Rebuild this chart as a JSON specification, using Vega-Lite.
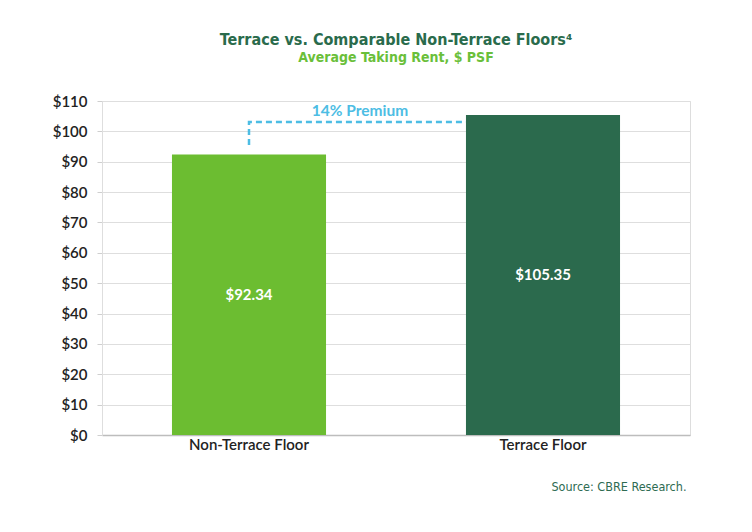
{
  "$schema": "https://vega.github.io/schema/vega-lite/v6.json",
  "width": 588,
  "height": 334,
  "autosize": "none",
  "padding": {"left": 102, "top": 101, "right": 62, "bottom": 97},
  "background": "white",
  "title": {
    "text": "Terrace vs. Comparable Non-Terrace Floors⁴",
    "subtitle": "Average Taking Rent, $ PSF",
    "anchor": "middle",
    "font": "Liberation Sans Narrow, DejaVu Sans Condensed, sans-serif",
    "fontSize": 16,
    "fontWeight": "bold",
    "color": "#2a6b4c",
    "subtitleFont": "Liberation Sans Narrow, DejaVu Sans Condensed, sans-serif",
    "subtitleFontSize": 14,
    "subtitleFontWeight": "bold",
    "subtitleColor": "#6abf3a",
    "subtitlePadding": 3,
    "offset": 29
  },
  "datasets": {
    "bars": [
      {"floor": "Non-Terrace Floor", "rent": 92.34, "label": "$92.34"},
      {"floor": "Terrace Floor", "rent": 105.35, "label": "$105.35"}
    ],
    "premium": [
      {"floor": "Non-Terrace Floor", "y": 95.5, "seq": 1},
      {"floor": "Non-Terrace Floor", "y": 103.1, "seq": 2},
      {"floor": "Terrace Floor", "y": 103.1, "seq": 3}
    ],
    "note": [
      {"floor": "Non-Terrace Floor", "y": 106.6, "text": "14% Premium"}
    ]
  },
  "encoding": {
    "y": {
      "type": "quantitative",
      "scale": {"domain": [0, 110]},
      "axis": {
        "values": [0, 10, 20, 30, 40, 50, 60, 70, 80, 90, 100, 110],
        "labelOverlap": false,
        "labelExpr": "'$' + datum.value",
        "labelFont": "Lato, sans-serif",
        "labelFontSize": 15,
        "labelFontWeight": 600,
        "labelColor": "#222222",
        "labelPadding": 10,
        "tickColor": "#cfcfcf",
        "tickSize": 5,
        "domainColor": "#dedede",
        "gridColor": "#dedede",
        "gridWidth": 1.2,
        "title": null
      }
    }
  },
  "layer": [
    {
      "data": {"name": "premium"},
      "mark": {"type": "line", "color": "#4dbde4", "strokeWidth": 2.5, "strokeDash": [6, 4]},
      "encoding": {
        "x": {"field": "floor", "type": "nominal"},
        "y": {"field": "y"},
        "order": {"field": "seq", "type": "quantitative"}
      }
    },
    {
      "data": {"name": "bars"},
      "mark": {"type": "bar"},
      "encoding": {
        "x": {
          "field": "floor",
          "type": "nominal",
          "sort": null,
          "scale": {"paddingInner": 0.476, "paddingOuter": 0.238},
          "axis": {
            "bandPosition": 0.5,
            "labelAngle": 0,
            "labelAlign": "center",
            "labelFont": "Lato, sans-serif",
            "labelFontSize": 15,
            "labelFontWeight": 600,
            "labelColor": "#222222",
            "labelPadding": 9,
            "ticks": false,
            "domainColor": "#bdbdbd",
            "domainWidth": 1.5,
            "title": "Source: CBRE Research.",
            "titleAnchor": "end",
            "titleAlign": "right",
            "titleFont": "Liberation Sans Narrow, DejaVu Sans Condensed, sans-serif",
            "titleFontSize": 12.5,
            "titleFontWeight": "normal",
            "titleColor": "#2e6b52",
            "titlePadding": 28,
            "titleX": 584
          }
        },
        "y": {"field": "rent"},
        "color": {
          "field": "floor",
          "type": "nominal",
          "scale": {"domain": ["Non-Terrace Floor", "Terrace Floor"], "range": ["#6cbd31", "#2b6a4d"]},
          "legend": null
        }
      }
    },
    {
      "data": {"name": "bars"},
      "mark": {"type": "text", "color": "white", "font": "Lato, sans-serif", "fontSize": 15, "fontWeight": "bold", "baseline": "middle"},
      "transform": [{"calculate": "datum.rent / 2", "as": "mid"}],
      "encoding": {
        "x": {"field": "floor", "type": "nominal"},
        "y": {"field": "mid"},
        "text": {"field": "label"}
      }
    },
    {
      "data": {"name": "note"},
      "mark": {"type": "text", "color": "#4dbde4", "font": "Lato, sans-serif", "fontSize": 15.5, "fontWeight": "bold", "baseline": "middle"},
      "encoding": {
        "x": {"field": "floor", "type": "nominal", "bandPosition": 1.22},
        "y": {"field": "y"},
        "text": {"field": "text"}
      }
    }
  ]
}
